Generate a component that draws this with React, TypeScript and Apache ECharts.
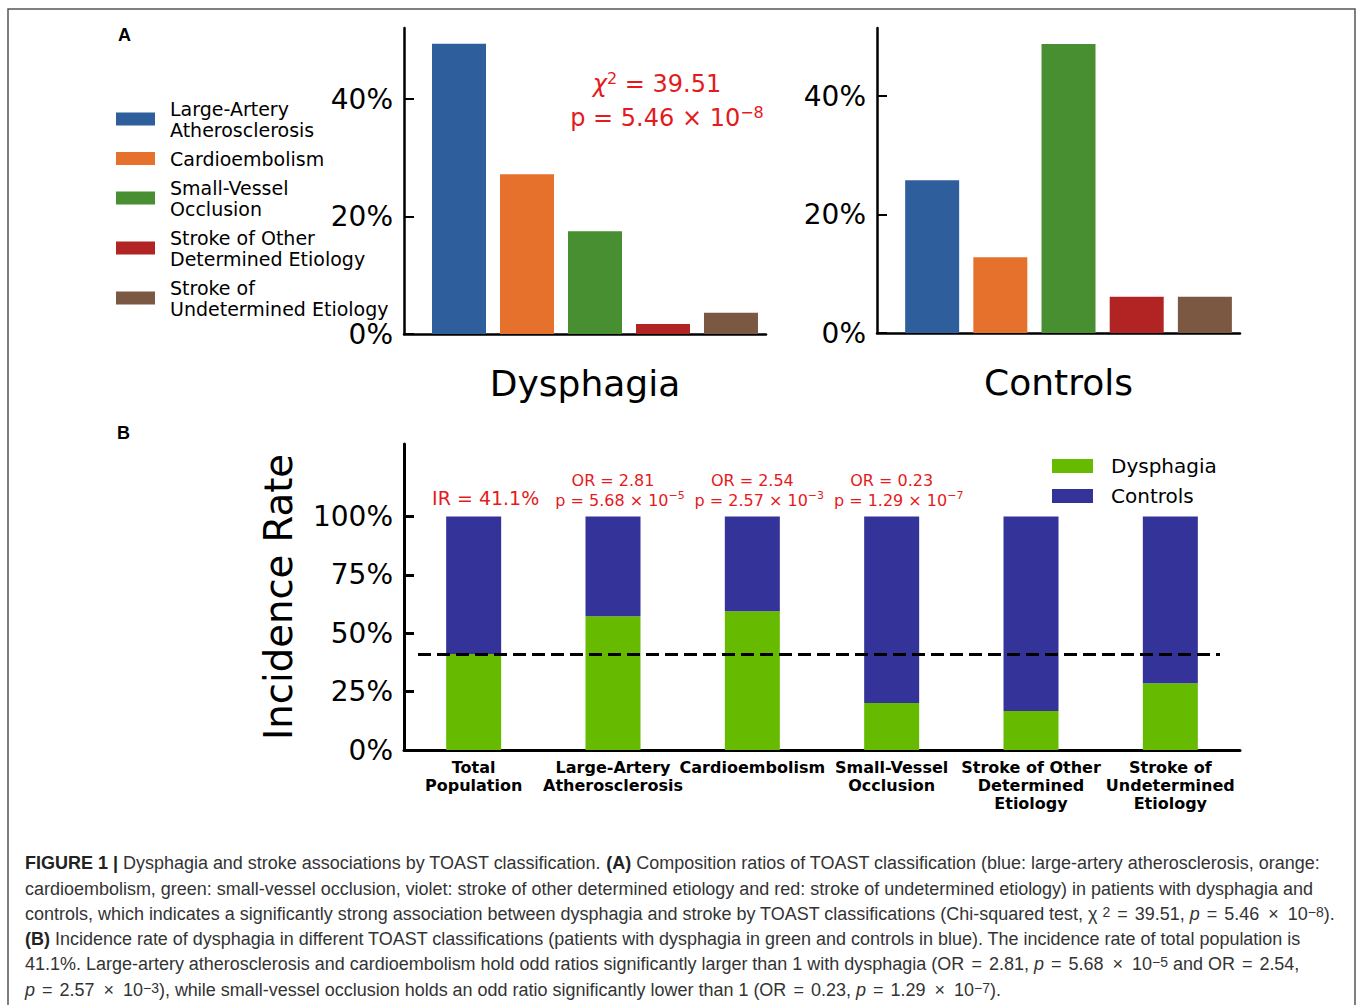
import React, { useEffect, useRef } from 'react';
import * as echarts from 'echarts';

// ---------- data ----------
const toastTypes = [
  'Large-Artery Atherosclerosis',
  'Cardioembolism',
  'Small-Vessel Occlusion',
  'Stroke of Other Determined Etiology',
  'Stroke of Undetermined Etiology',
];
const legendLabels = [
  'Large-Artery\nAtherosclerosis',
  'Cardioembolism',
  'Small-Vessel\nOcclusion',
  'Stroke of Other\nDetermined Etiology',
  'Stroke of\nUndetermined Etiology',
];
const toastColors = ['#2e5f9c', '#e6712c', '#488f31', '#b22424', '#7a5842'];
const dysphagiaShare = [49.4, 27.2, 17.5, 1.7, 3.6];
const controlsShare = [25.8, 12.8, 48.8, 6.1, 6.1];
const shareTicks = [0, 20, 40];

const incidenceCategories = [
  'Total\nPopulation',
  'Large-Artery\nAtherosclerosis',
  'Cardioembolism',
  'Small-Vessel\nOcclusion',
  'Stroke of Other\nDetermined\nEtiology',
  'Stroke of\nUndetermined\nEtiology',
];
const dysphagiaRate = [41.1, 57.3, 59.4, 20.1, 16.7, 28.6];
const controlsRate = [58.9, 42.7, 40.6, 79.9, 83.3, 71.4];
const rateTicks = [0, 25, 50, 75, 100];
const totalIR = 41.1;
const oddsRatios = ['', '2.81', '2.54', '0.23', '', ''];
const pMantissas = ['', '5.68', '2.57', '1.29', '', ''];
const pExponents = ['', '−5', '−3', '−7', '', ''];
const chiSquared = '39.51';
const chiP = '5.46';
const chiExp = '−8';

const captionLines = [
  '{b|FIGURE 1 |} Dysphagia and stroke associations by TOAST classification. {b|(A)} Composition ratios of TOAST classification (blue: large-artery atherosclerosis, orange:',
  'cardioembolism, green: small-vessel occlusion, violet: stroke of other determined etiology and red: stroke of undetermined etiology) in patients with dysphagia and',
  'controls, which indicates a significantly strong association between dysphagia and stroke by TOAST classifications (Chi-squared test, χ{chi|2} = 39.51, {i|p} = 5.46 × 10{sup|−8}).',
  '{b|(B)} Incidence rate of dysphagia in different TOAST classifications (patients with dysphagia in green and controls in blue). The incidence rate of total population is',
  '41.1%. Large-artery atherosclerosis and cardioembolism hold odd ratios significantly larger than 1 with dysphagia (OR = 2.81, {i|p} = 5.68 × 10{sup|−5} and OR = 2.54,',
  '{i|p} = 2.57 × 10{sup|−3}), while small-vessel occlusion holds an odd ratio significantly lower than 1 (OR = 0.23, {i|p} = 1.29 × 10{sup|−7}).',
];

// ---------- styling ----------
const FONT = 'DejaVu Sans';
const CAP_FONT = 'Liberation Sans';
const CAP_SIZE = 18;
const CAP_SUP = 14;
const RED = '#e41a1c';
const DYS_GREEN = '#66bb00';
const CTL_BLUE = '#333399';

function mathify(line: string): string {
  return line.replace(/ = /g, ' {eq|=} ').replace(/ × /g, ' {x|×} ');
}

function measurePlain(text: string): number {
  const ctx = document.createElement('canvas').getContext('2d')!;
  const re = /\{(\w+)\|([^}]*)\}|([^{]+)/g;
  let w = 0;
  let m: RegExpExecArray | null;
  while ((m = re.exec(text))) {
    const st = m[1];
    const str = m[2] !== undefined ? m[2] : m[3];
    let font = `${CAP_SIZE}px "${CAP_FONT}"`;
    if (st === 'b') font = `bold ${CAP_SIZE}px "${CAP_FONT}"`;
    if (st === 'i') font = `italic ${CAP_SIZE}px "${CAP_FONT}"`;
    if (st === 'sup' || st === 'chi') font = `${CAP_SUP}px "${CAP_FONT}"`;
    ctx.font = font;
    w += ctx.measureText(str).width;
  }
  return w;
}

function shareXAxis(grid: number, title: string) {
  return {
    type: 'value',
    gridIndex: grid,
    min: -0.809,
    max: 4.515,
    axisLine: { show: true, onZero: false, lineStyle: { color: '#000', width: 2.5 } },
    axisTick: { show: false },
    axisLabel: { show: false },
    splitLine: { show: false },
    name: title,
    nameLocation: 'middle',
    nameGap: 31,
    nameTextStyle: { fontSize: 36, color: '#000', fontFamily: FONT },
  };
}

function shareYAxis(grid: number, max: number) {
  return {
    type: 'value',
    gridIndex: grid,
    min: 0,
    max,
    axisLine: { show: true, onZero: false, lineStyle: { color: '#000', width: 2.5 } },
    axisTick: { show: true, inside: true, length: 10, customValues: shareTicks, lineStyle: { color: '#000', width: 2 } },
    axisLabel: {
      customValues: shareTicks,
      formatter: '{value}%',
      fontSize: 28,
      color: '#000',
      fontFamily: FONT,
      margin: 11,
    },
    splitLine: { show: false },
  };
}

function buildOption() {
  const capW = measurePlain(captionLines[0]);
  const capScale = capW > 0 ? 1295 / capW : 0.9;
  const capY = [863, 889, 914, 939, 964, 990];

  const richLabel = {
    ir: { fontSize: 19, color: RED, fontFamily: FONT },
    or: { fontSize: 16, lineHeight: 20, color: RED, fontFamily: FONT },
    p: { fontSize: 16, lineHeight: 20, color: RED, fontFamily: FONT },
    sup: { fontSize: 11, lineHeight: 11, verticalAlign: 'top', color: RED, fontFamily: FONT },
    sp: { width: 14 },
  };

  const controlsData = controlsRate.map((v, i) => {
    if (i === 0) {
      return {
        value: v,
        label: { show: true, formatter: `{ir|IR = ${totalIR}%}`, offset: [12, 0], distance: 9 },
      };
    }
    if (oddsRatios[i]) {
      return {
        value: v,
        label: {
          show: true,
          formatter: `{or|OR = ${oddsRatios[i]}}{sp|}\n{p|p = ${pMantissas[i]} × 10}{sup|${pExponents[i]}}`,
          offset: [7, 0],
          distance: 6,
        },
      };
    }
    return { value: v, label: { show: false } };
  });

  const series: any[] = [];
  toastTypes.forEach((name, i) => {
    series.push({
      type: 'bar',
      name,
      xAxisIndex: 0,
      yAxisIndex: 0,
      barWidth: 54,
      barGap: '-100%',
      data: [[i, dysphagiaShare[i]]],
      itemStyle: { color: toastColors[i] },
    });
  });
  toastTypes.forEach((name, i) => {
    series.push({
      type: 'bar',
      name,
      xAxisIndex: 1,
      yAxisIndex: 1,
      barWidth: 54,
      barGap: '-100%',
      data: [[i, controlsShare[i]]],
      itemStyle: { color: toastColors[i] },
    });
  });
  series.push({
    type: 'bar',
    name: 'Dysphagia',
    xAxisIndex: 2,
    yAxisIndex: 2,
    stack: 'incidence',
    barWidth: 55,
    data: dysphagiaRate,
    itemStyle: { color: DYS_GREEN },
    markLine: {
      silent: true,
      symbol: 'none',
      label: { show: false },
      lineStyle: { color: '#000', width: 3, type: [13, 6] },
      data: [[{ yAxis: totalIR, x: 418 }, { yAxis: totalIR, x: 1220 }]],
    },
  });
  series.push({
    type: 'bar',
    name: 'Controls',
    xAxisIndex: 2,
    yAxisIndex: 2,
    stack: 'incidence',
    barWidth: 55,
    data: controlsData,
    itemStyle: { color: CTL_BLUE },
    label: { show: true, position: 'top', rich: richLabel, color: RED, fontFamily: FONT },
  });

  const capRich = {
    b: { fontSize: CAP_SIZE, fontFamily: CAP_FONT, fontWeight: 'bold', fill: '#222' },
    i: { fontSize: CAP_SIZE, fontFamily: CAP_FONT, fontStyle: 'italic', fill: '#333' },
    sup: { fontSize: CAP_SUP, fontFamily: CAP_FONT, fill: '#333', verticalAlign: 'top', lineHeight: 6 },
    chi: { fontSize: CAP_SUP, fontFamily: CAP_FONT, fill: '#333', verticalAlign: 'top', lineHeight: 6, padding: [0, 0, 0, 4] },
    eq: { fontSize: CAP_SIZE, fontFamily: CAP_FONT, fill: '#333', padding: [0, 2, 0, 2] },
    x: { fontSize: CAP_SIZE, fontFamily: CAP_FONT, fill: '#333', padding: [0, 4, 0, 4] },
  };

  return {
    animation: false,
    backgroundColor: '#fff',
    grid: [
      { left: 404, top: 28, width: 362, height: 306, outerBoundsMode: 'none' },
      { left: 877, top: 28, width: 363, height: 305, outerBoundsMode: 'none' },
      { left: 404, top: 444, width: 836, height: 306, outerBoundsMode: 'none' },
    ],
    legend: [
      {
        data: toastTypes,
        orient: 'vertical',
        left: 116,
        top: 99,
        padding: 0,
        itemWidth: 39,
        itemHeight: 13,
        itemGap: 10,
        icon: 'rect',
        selectedMode: false,
        formatter: (name: string) =>
          legendLabels[toastTypes.indexOf(name)]
            .split('\n')
            .map((l) => `{t|${l}}`)
            .join('\n'),
        textStyle: {
          color: '#000',
          fontFamily: FONT,
          fontSize: 19,
          rich: { t: { fontSize: 19, lineHeight: 21, padding: [0, 0, 0, 10], color: '#000', fontFamily: FONT } },
        },
      },
      {
        data: ['Dysphagia', 'Controls'],
        orient: 'vertical',
        left: 1052,
        top: 456,
        padding: 0,
        itemWidth: 41,
        itemHeight: 14,
        itemGap: 10,
        icon: 'rect',
        selectedMode: false,
        formatter: (name: string) => `{t|${name}}`,
        textStyle: {
          color: '#000',
          fontFamily: FONT,
          fontSize: 20,
          rich: { t: { fontSize: 20, lineHeight: 20, padding: [0, 0, 0, 13], color: '#000', fontFamily: FONT } },
        },
      },
    ],
    xAxis: [
      shareXAxis(0, 'Dysphagia'),
      shareXAxis(1, 'Controls'),
      {
        type: 'category',
        gridIndex: 2,
        data: incidenceCategories,
        axisLine: { show: true, lineStyle: { color: '#000', width: 3 } },
        axisTick: { show: true, inside: true, alignWithLabel: true, length: 9, lineStyle: { color: '#000', width: 3 } },
        axisLabel: {
          interval: 0,
          hideOverlap: false,
          fontSize: 16,
          fontWeight: 'bold',
          lineHeight: 18,
          color: '#000',
          fontFamily: FONT,
          margin: 8,
        },
        splitLine: { show: false },
      },
    ],
    yAxis: [
      shareYAxis(0, 52.1),
      shareYAxis(1, 51.5),
      {
        type: 'value',
        gridIndex: 2,
        min: 0,
        max: 131,
        axisLine: { show: true, onZero: false, lineStyle: { color: '#000', width: 3 } },
        axisTick: { show: true, inside: true, length: 10, customValues: rateTicks, lineStyle: { color: '#000', width: 3 } },
        axisLabel: {
          customValues: rateTicks,
          formatter: '{value}%',
          fontSize: 28,
          color: '#000',
          fontFamily: FONT,
          margin: 11,
        },
        splitLine: { show: false },
        name: 'Incidence Rate',
        nameLocation: 'middle',
        nameGap: 106,
        nameTextStyle: { fontSize: 38.6, color: '#000', fontFamily: FONT },
      },
    ],
    series,
    graphic: [
      {
        type: 'rect',
        shape: { x: 8, y: 9, width: 1347, height: 1010 },
        style: { fill: 'none', stroke: '#555', lineWidth: 1.5 },
        silent: true,
      },
      {
        type: 'text',
        style: { text: 'A', x: 118, y: 35, fontSize: 18, fontWeight: 'bold', fontFamily: CAP_FONT, fill: '#000', verticalAlign: 'middle' },
      },
      {
        type: 'text',
        style: { text: 'B', x: 117, y: 433, fontSize: 18, fontWeight: 'bold', fontFamily: CAP_FONT, fill: '#000', verticalAlign: 'middle' },
      },
      {
        type: 'text',
        style: {
          text: `{c|χ}{s|2}{m| = ${chiSquared}}`,
          x: 657,
          y: 84,
          align: 'center',
          verticalAlign: 'middle',
          rich: {
            c: { fontSize: 24, fontStyle: 'italic', fontFamily: FONT, fill: RED, lineHeight: 28 },
            m: { fontSize: 24, fontFamily: FONT, fill: RED, lineHeight: 28 },
            s: { fontSize: 16, fontFamily: FONT, fill: RED, lineHeight: 16, verticalAlign: 'top' },
          },
        },
      },
      {
        type: 'text',
        style: {
          text: `{m|p = ${chiP} × 10}{s|${chiExp}}`,
          x: 667,
          y: 118,
          align: 'center',
          verticalAlign: 'middle',
          rich: {
            m: { fontSize: 24, fontFamily: FONT, fill: RED, lineHeight: 28 },
            s: { fontSize: 16, fontFamily: FONT, fill: RED, lineHeight: 16, verticalAlign: 'top' },
          },
        },
      },
      {
        type: 'group',
        x: 25,
        y: 0,
        scaleX: capScale,
        children: captionLines.map((line, k) => ({
          type: 'text',
          style: {
            text: mathify(line),
            x: 0,
            y: capY[k],
            verticalAlign: 'middle',
            fontSize: CAP_SIZE,
            fontFamily: CAP_FONT,
            fill: '#333',
            rich: capRich,
          },
        })),
      },
    ],
  };
}

export default function App() {
  const ref = useRef<HTMLDivElement>(null);
  useEffect(() => {
    const chart = echarts.init(ref.current!, null, { renderer: 'svg' });
    chart.setOption(buildOption() as any);
    return () => chart.dispose();
  }, []);
  return (
    <div
      ref={ref}
      style={{ position: 'fixed', left: 0, top: 0, width: 1357, height: 1005, background: '#fff' }}
    />
  );
}
